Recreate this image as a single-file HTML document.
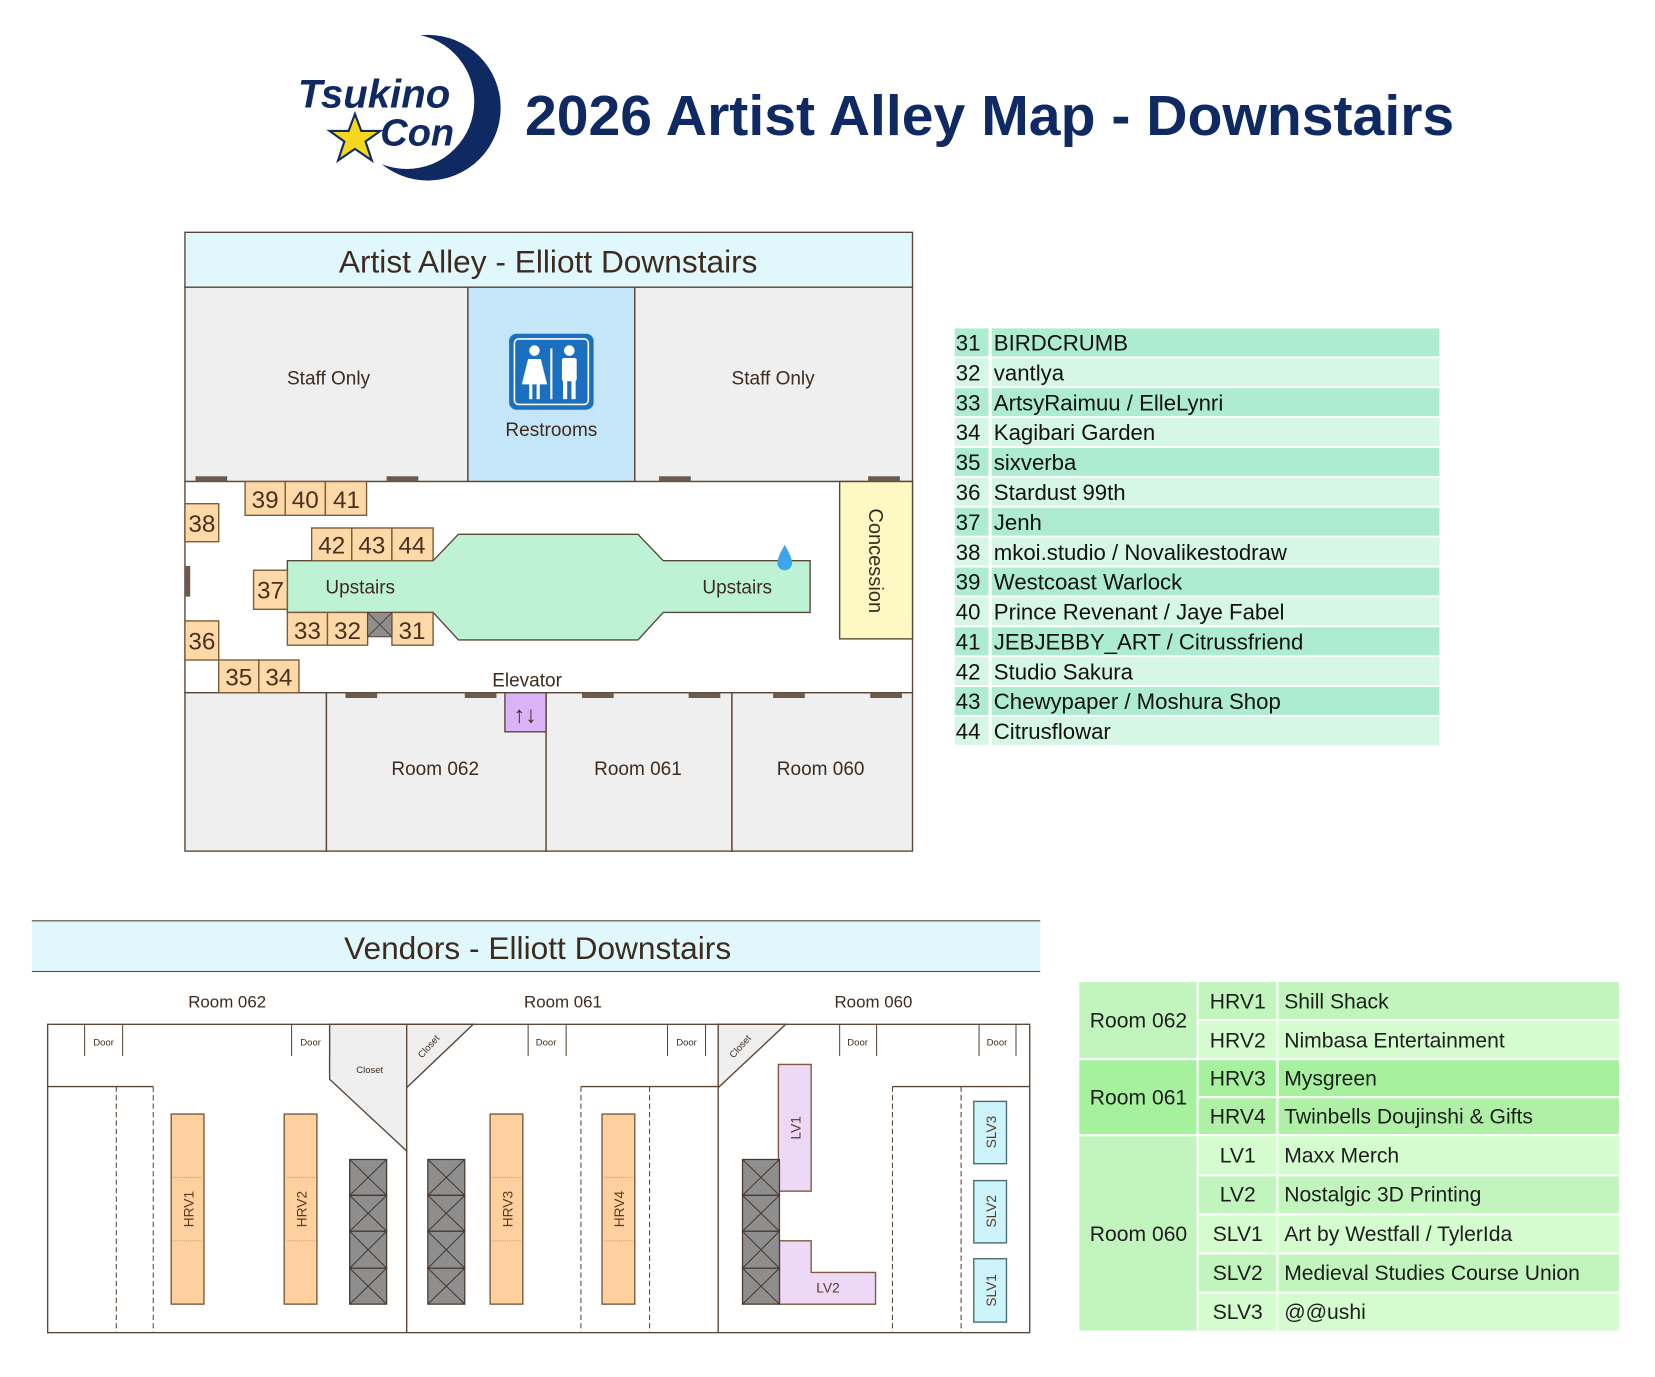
<!DOCTYPE html>
<html><head><meta charset="utf-8"><style>
html,body{margin:0;padding:0;background:#fff;}
svg{display:block;}
text{font-family:"Liberation Sans",sans-serif;}
</style></head><body>
<svg width="1655" height="1377" viewBox="0 0 1567 1304" xmlns="http://www.w3.org/2000/svg">
<rect width="1567" height="1304" fill="#fff"/>
<!-- Logo -->
<circle cx="405" cy="102" r="69" fill="#0f2a63"/>
<circle cx="385" cy="96" r="64" fill="#fff"/>
<text x="282" y="102" font-family="Liberation Serif" font-style="italic" font-weight="bold" font-size="38" fill="#0f2a63">Tsukino</text>
<text x="360" y="138" font-family="Liberation Serif" font-style="italic" font-weight="bold" font-size="36" fill="#0f2a63">Con</text>
<polygon points="336,108 342,124 360,124 346,134 352,152 336,141 320,152 326,134 312,124 330,124" fill="#f5d81e" stroke="#0f2a63" stroke-width="2"/>
<text x="497" y="128" font-family="Liberation Serif" font-weight="bold" font-size="54" fill="#0f2a63" textLength="880" lengthAdjust="spacingAndGlyphs">2026 Artist Alley Map - Downstairs</text>

<!-- Artist alley map -->
<g stroke="#5a4636" stroke-width="1.3">
<rect x="175" y="220" width="689" height="52" fill="#e0f8fc"/>
<rect x="175" y="272" width="268" height="184" fill="#efefef"/>
<rect x="443" y="272" width="158" height="184" fill="#c5e6f8"/>
<rect x="601" y="272" width="263" height="184" fill="#efefef"/>
<rect x="175" y="456" width="689" height="200" fill="#fff"/>
<rect x="175" y="656" width="134" height="150" fill="#efefef"/>
<rect x="309" y="656" width="208" height="150" fill="#efefef"/>
<rect x="517" y="656" width="176" height="150" fill="#efefef"/>
<rect x="693" y="656" width="171" height="150" fill="#efefef"/>
<rect x="795" y="456" width="69" height="149" fill="#fdf8c4"/>
<polygon points="272,531 410,531 434,506 604,506 628,531 767,531 767,580 628,580 604,606 434,606 410,580 272,580" fill="#bdf3d4"/>
<rect x="478" y="656" width="39" height="37" fill="#d9b3f5"/>
</g>
<g fill="#6b5a4e">
<rect x="185" y="451" width="30" height="5"/><rect x="366" y="451" width="30" height="5"/><rect x="624" y="451" width="30" height="5"/><rect x="822" y="451" width="30" height="5"/>
<rect x="327" y="656" width="30" height="5"/><rect x="440" y="656" width="30" height="5"/><rect x="551" y="656" width="30" height="5"/><rect x="652" y="656" width="30" height="5"/><rect x="732" y="656" width="30" height="5"/><rect x="824" y="656" width="30" height="5"/>
<rect x="175" y="536" width="5" height="29"/>
</g>
<text x="519" y="258" text-anchor="middle" font-size="30" fill="#3d2b1f">Artist Alley - Elliott Downstairs</text>
<g font-size="18" fill="#3d2b1f" text-anchor="middle">
<text x="311" y="364">Staff Only</text><text x="732" y="364">Staff Only</text>
<text x="522" y="413">Restrooms</text>
<text x="341" y="562">Upstairs</text><text x="698" y="562">Upstairs</text>
<text x="499" y="650">Elevator</text>
<text x="412" y="734">Room 062</text><text x="604" y="734">Room 061</text><text x="777" y="734">Room 060</text>
<text x="497" y="684" font-size="22">↑↓</text>
<text transform="translate(823,531) rotate(90)" font-size="19">Concession</text>
</g>
<!-- restroom icon -->
<rect x="482" y="316" width="80" height="72" rx="7" fill="#1a6fc0"/>
<rect x="487" y="321" width="70" height="62" rx="4" fill="none" stroke="#fff" stroke-width="1.5"/>
<g fill="#fff">
<circle cx="506" cy="332" r="5"/><polygon points="500,340 512,340 518,364 494,364"/><rect x="501" y="362" width="3" height="16"/><rect x="508" y="362" width="3" height="16"/>
<rect x="521" y="330" width="2" height="48"/>
<circle cx="539" cy="332" r="5"/><rect x="532" y="339" width="14" height="22" rx="2"/><rect x="533" y="358" width="4" height="20"/><rect x="541" y="358" width="4" height="20"/>
</g>
<path d="M743,516 Q736,528 736,533 A7,7 0 0 0 750,533 Q750,528 743,516Z" fill="#3da5e8"/>
<!-- booths -->
<g fill="#fdd9a8" stroke="#7a5a3a" stroke-width="1.3">
<rect x="232" y="456" width="38" height="32"/><rect x="270" y="456" width="38" height="32"/><rect x="308" y="456" width="39" height="32"/>
<rect x="175" y="477" width="32" height="36"/>
<rect x="295" y="500" width="38" height="31"/><rect x="333" y="500" width="38" height="31"/><rect x="371" y="500" width="39" height="31"/>
<rect x="240" y="540" width="32" height="37"/>
<rect x="272" y="580" width="38" height="31"/><rect x="310" y="580" width="38" height="31"/><rect x="371" y="580" width="39" height="31"/>
<rect x="175" y="588" width="32" height="37"/>
<rect x="207" y="625" width="38" height="31"/><rect x="245" y="625" width="38" height="31"/>
</g>
<g stroke="#5a4636" stroke-width="1"><rect x="348" y="580" width="23" height="23" fill="#8e8e8e"/><line x1="348" y1="580" x2="371" y2="603"/><line x1="371" y1="580" x2="348" y2="603"/></g>
<g font-size="23" fill="#4a3020" text-anchor="middle">
<text x="251" y="481">39</text><text x="289" y="481">40</text><text x="328" y="481">41</text>
<text x="191" y="504">38</text>
<text x="314" y="524">42</text><text x="352" y="524">43</text><text x="390" y="524">44</text>
<text x="256" y="567">37</text>
<text x="291" y="605">33</text><text x="329" y="605">32</text><text x="390" y="605">31</text>
<text x="191" y="615">36</text>
<text x="226" y="649">35</text><text x="264" y="649">34</text>
</g>

<!-- legend -->
<g>
<rect x="904" y="311" width="459" height="26.5" fill="#aeecd2"/>
<rect x="904" y="339.3" width="459" height="26.5" fill="#d6f6e6"/>
<rect x="904" y="367.6" width="459" height="26.5" fill="#aeecd2"/>
<rect x="904" y="395.9" width="459" height="26.5" fill="#d6f6e6"/>
<rect x="904" y="424.2" width="459" height="26.5" fill="#aeecd2"/>
<rect x="904" y="452.5" width="459" height="26.5" fill="#d6f6e6"/>
<rect x="904" y="480.8" width="459" height="26.5" fill="#aeecd2"/>
<rect x="904" y="509.1" width="459" height="26.5" fill="#d6f6e6"/>
<rect x="904" y="537.4" width="459" height="26.5" fill="#aeecd2"/>
<rect x="904" y="565.7" width="459" height="26.5" fill="#d6f6e6"/>
<rect x="904" y="594" width="459" height="26.5" fill="#aeecd2"/>
<rect x="904" y="622.3" width="459" height="26.5" fill="#d6f6e6"/>
<rect x="904" y="650.6" width="459" height="26.5" fill="#aeecd2"/>
<rect x="904" y="678.9" width="459" height="26.5" fill="#d6f6e6"/>
<g fill="#fff"><rect x="936" y="311" width="3" height="395"/></g>
</g>
<g font-size="21" fill="#111">
<text x="905" y="332">31</text><text x="941" y="332">BIRDCRUMB</text>
<text x="905" y="360.3">32</text><text x="941" y="360.3">vantlya</text>
<text x="905" y="388.6">33</text><text x="941" y="388.6">ArtsyRaimuu / ElleLynri</text>
<text x="905" y="416.9">34</text><text x="941" y="416.9">Kagibari Garden</text>
<text x="905" y="445.2">35</text><text x="941" y="445.2">sixverba</text>
<text x="905" y="473.5">36</text><text x="941" y="473.5">Stardust 99th</text>
<text x="905" y="501.8">37</text><text x="941" y="501.8">Jenh</text>
<text x="905" y="530.1">38</text><text x="941" y="530.1">mkoi.studio / Novalikestodraw</text>
<text x="905" y="558.4">39</text><text x="941" y="558.4">Westcoast Warlock</text>
<text x="905" y="586.7">40</text><text x="941" y="586.7">Prince Revenant / Jaye Fabel</text>
<text x="905" y="615">41</text><text x="941" y="615">JEBJEBBY_ART / Citrussfriend</text>
<text x="905" y="643.3">42</text><text x="941" y="643.3">Studio Sakura</text>
<text x="905" y="671.6">43</text><text x="941" y="671.6">Chewypaper / Moshura Shop</text>
<text x="905" y="699.9">44</text><text x="941" y="699.9">Citrusflowar</text>
</g>

<!-- Vendors -->
<rect x="30" y="872" width="955" height="48" fill="#e0f8fc"/>
<line x1="30" y1="872" x2="985" y2="872" stroke="#5a4636" stroke-width="1"/>
<line x1="30" y1="920" x2="985" y2="920" stroke="#5a4636" stroke-width="1"/>
<text x="509" y="908" text-anchor="middle" font-size="30" fill="#3d2b1f">Vendors - Elliott Downstairs</text>
<g font-size="16" fill="#3d2b1f" text-anchor="middle">
<text x="215" y="954">Room 062</text><text x="533" y="954">Room 061</text><text x="827" y="954">Room 060</text>
</g>
<g stroke="#5a4636" stroke-width="1.3" fill="none">
<rect x="45" y="970" width="930" height="292" fill="#fff"/>
<polygon points="312,970 385,970 385,1090 312,1022" fill="#efefef"/>
<polygon points="385,970 448,970 385,1030" fill="#efefef"/>
<polygon points="680,970 744,970 680,1030" fill="#efefef"/>
<line x1="45" y1="1029" x2="145" y2="1029"/><line x1="550" y1="1029" x2="680" y2="1029"/><line x1="845" y1="1029" x2="975" y2="1029"/>
<line x1="385" y1="1090" x2="385" y2="1262"/><line x1="680" y1="1030" x2="680" y2="1262"/>
<g stroke-width="1"><line x1="80" y1="970" x2="80" y2="1000"/><line x1="116" y1="970" x2="116" y2="1000"/>
<line x1="276" y1="970" x2="276" y2="1000"/><line x1="312" y1="970" x2="312" y2="1000"/>
<line x1="500" y1="970" x2="500" y2="1000"/><line x1="536" y1="970" x2="536" y2="1000"/>
<line x1="632" y1="970" x2="632" y2="1000"/><line x1="668" y1="970" x2="668" y2="1000"/>
<line x1="795" y1="970" x2="795" y2="1000"/><line x1="830" y1="970" x2="830" y2="1000"/>
<line x1="927" y1="970" x2="927" y2="1000"/><line x1="962" y1="970" x2="962" y2="1000"/></g>
<g stroke-dasharray="5,3" stroke-width="1"><line x1="110" y1="1029" x2="110" y2="1262"/><line x1="145" y1="1029" x2="145" y2="1262"/>
<line x1="550" y1="1029" x2="550" y2="1262"/><line x1="615" y1="1029" x2="615" y2="1262"/>
<line x1="845" y1="1029" x2="845" y2="1262"/><line x1="910" y1="1029" x2="910" y2="1262"/></g>
</g>
<g font-size="9" fill="#3d2b1f" text-anchor="middle">
<text x="98" y="990">Door</text><text x="294" y="990">Door</text><text x="517" y="990">Door</text><text x="650" y="990">Door</text><text x="812" y="990">Door</text><text x="944" y="990">Door</text>
<text x="350" y="1016">Closet</text>
<text transform="translate(408,993) rotate(-48)">Closet</text>
<text transform="translate(703,993) rotate(-48)">Closet</text>
</g>
<g fill="#fdd09e" stroke="#7a5a3a" stroke-width="1.3">
<rect x="162" y="1055" width="31" height="180"/><rect x="269" y="1055" width="31" height="180"/>
<rect x="464" y="1055" width="31" height="180"/><rect x="570" y="1055" width="31" height="180"/>
</g>
<g stroke="#c9a27a" stroke-width="1" stroke-dasharray="1,1">
<line x1="164" y1="1115" x2="191" y2="1115"/><line x1="164" y1="1175" x2="191" y2="1175"/>
<line x1="271" y1="1115" x2="298" y2="1115"/><line x1="271" y1="1175" x2="298" y2="1175"/>
<line x1="466" y1="1115" x2="493" y2="1115"/><line x1="466" y1="1175" x2="493" y2="1175"/>
<line x1="572" y1="1115" x2="599" y2="1115"/><line x1="572" y1="1175" x2="599" y2="1175"/>
</g>
<g fill="#eed8f8" stroke="#7a5a3a" stroke-width="1.3">
<rect x="737" y="1008" width="31" height="120"/>
<polygon points="738,1175 768,1175 768,1205 829,1205 829,1235 738,1235"/>
</g>
<g fill="#cdf3fb" stroke="#4a6a70" stroke-width="1.3">
<rect x="922" y="1043" width="31" height="59"/><rect x="922" y="1118" width="31" height="59"/><rect x="922" y="1192" width="31" height="60"/>
</g>
<g fill="#8e8e8e" stroke="#4a3a2e" stroke-width="1.2">
<rect x="331" y="1098" width="35" height="34"/><rect x="331" y="1132" width="35" height="34"/><rect x="331" y="1166" width="35" height="35"/><rect x="331" y="1201" width="35" height="34"/>
<rect x="405" y="1098" width="35" height="34"/><rect x="405" y="1132" width="35" height="34"/><rect x="405" y="1166" width="35" height="35"/><rect x="405" y="1201" width="35" height="34"/>
<rect x="703" y="1098" width="35" height="34"/><rect x="703" y="1132" width="35" height="34"/><rect x="703" y="1166" width="35" height="35"/><rect x="703" y="1201" width="35" height="34"/>
</g>
<g stroke="#4a3a2e" stroke-width="1">
<path d="M331,1098 L366,1132 M366,1098 L331,1132 M331,1132 L366,1166 M366,1132 L331,1166 M331,1166 L366,1201 M366,1166 L331,1201 M331,1201 L366,1235 M366,1201 L331,1235"/>
<path d="M405,1098 L440,1132 M440,1098 L405,1132 M405,1132 L440,1166 M440,1132 L405,1166 M405,1166 L440,1201 M440,1166 L405,1201 M405,1201 L440,1235 M440,1201 L405,1235"/>
<path d="M703,1098 L738,1132 M738,1098 L703,1132 M703,1132 L738,1166 M738,1132 L703,1166 M703,1166 L738,1201 M738,1166 L703,1201 M703,1201 L738,1235 M738,1201 L703,1235"/>
</g>
<g font-size="13" fill="#5a3a20" text-anchor="middle">
<text transform="translate(183,1145) rotate(-90)">HRV1</text>
<text transform="translate(290,1145) rotate(-90)">HRV2</text>
<text transform="translate(485,1145) rotate(-90)">HRV3</text>
<text transform="translate(591,1145) rotate(-90)">HRV4</text>
<text transform="translate(758,1068) rotate(-90)">LV1</text>
<text x="784" y="1224">LV2</text>
<text transform="translate(943,1072) rotate(-90)">SLV3</text>
<text transform="translate(943,1147) rotate(-90)">SLV2</text>
<text transform="translate(943,1222) rotate(-90)">SLV1</text>
</g>

<!-- Vendor table -->
<g>
<rect x="1022" y="930" width="111" height="72" fill="#c2f5bd"/>
<rect x="1022" y="1004" width="111" height="70" fill="#a6f19e"/>
<rect x="1022" y="1076" width="111" height="184" fill="#c2f5bd"/>
<rect x="1135" y="930" width="398" height="35" fill="#c2f5bd"/>
<rect x="1135" y="967" width="398" height="35" fill="#d5fcce"/>
<rect x="1135" y="1004" width="398" height="34" fill="#a6f19e"/>
<rect x="1135" y="1040" width="398" height="34" fill="#b0f0a6"/>
<rect x="1135" y="1076" width="398" height="36" fill="#d5fcce"/>
<rect x="1135" y="1114" width="398" height="35" fill="#c2f5bd"/>
<rect x="1135" y="1151" width="398" height="35" fill="#d5fcce"/>
<rect x="1135" y="1188" width="398" height="35" fill="#c2f5bd"/>
<rect x="1135" y="1225" width="398" height="35" fill="#d5fcce"/>
<rect x="1208" y="930" width="3" height="330" fill="#e8fde4"/>
</g>
<g font-size="20" fill="#1e1e1e">
<g text-anchor="middle">
<text x="1078" y="973">Room 062</text><text x="1078" y="1046">Room 061</text><text x="1078" y="1175">Room 060</text>
<text x="1172" y="955">HRV1</text><text x="1172" y="992">HRV2</text><text x="1172" y="1028">HRV3</text><text x="1172" y="1064">HRV4</text>
<text x="1172" y="1101">LV1</text><text x="1172" y="1138">LV2</text><text x="1172" y="1175">SLV1</text><text x="1172" y="1212">SLV2</text><text x="1172" y="1249">SLV3</text>
</g>
<text x="1216" y="955">Shill Shack</text><text x="1216" y="992">Nimbasa Entertainment</text><text x="1216" y="1028">Mysgreen</text>
<text x="1216" y="1064">Twinbells Doujinshi &amp; Gifts</text><text x="1216" y="1101">Maxx Merch</text><text x="1216" y="1138">Nostalgic 3D Printing</text>
<text x="1216" y="1175">Art by Westfall / TylerIda</text><text x="1216" y="1212">Medieval Studies Course Union</text><text x="1216" y="1249">@@ushi</text>
</g>
</svg>
</body></html>
